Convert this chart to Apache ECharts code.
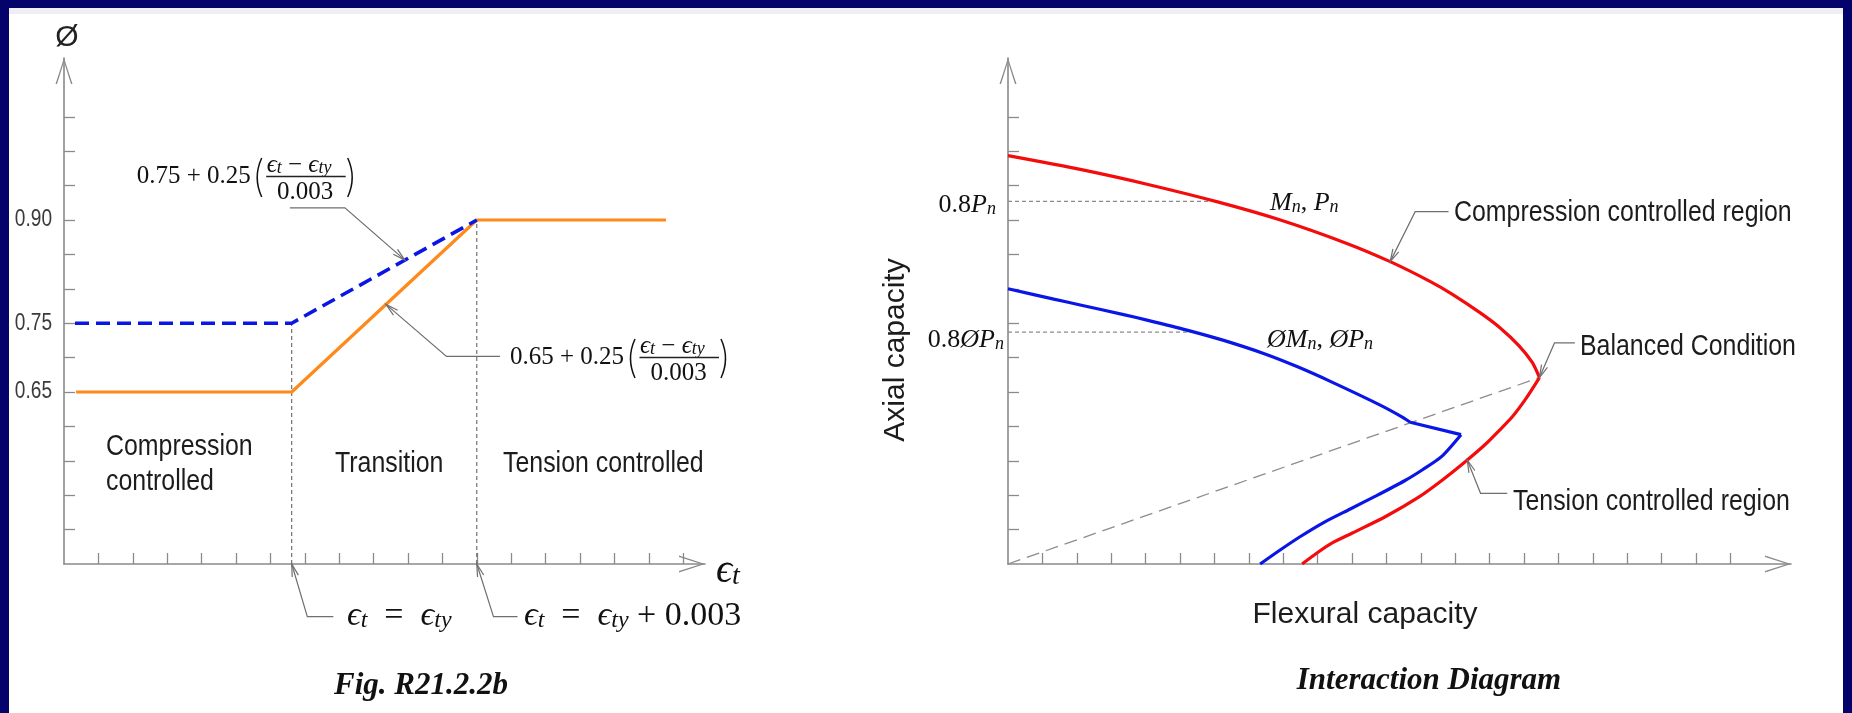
<!DOCTYPE html>
<html><head><meta charset="utf-8">
<script src="https://cdn.jsdelivr.net/npm/echarts@6/dist/echarts.min.js"></script>
<style>html,body{margin:0;padding:0;background:#fff}#c{width:1852px;height:713px}</style>
</head><body><div id="c"></div>
<script>
// ---------------- DATA ----------------
// Left chart: strength reduction factor (phi) vs net tensile strain (tick units)
const strainTicks = [1,2,3,4,5,6,7,8,9,10,11,12,13,14,15,16,17,18];
const phiTicks = [0.45,0.50,0.55,0.60,0.65,0.70,0.75,0.80,0.85,0.90,0.95,1.00,1.05];
const phiTickLabels = [0.65,0.75,0.90];
const spiralStrain = [0.32, 6.62, 12.0];
const spiralPhi = [0.75, 0.75, 0.90];
const otherStrain = [0.35, 6.62, 12.0, 17.5];
const otherPhi = [0.65, 0.65, 0.90, 0.90];
const limitStrain = [6.62, 12.0];
const limitPhi = [0.75, 0.90];

// Right chart: interaction diagram (tick units)
const momentTicks = [1,2,3,4,5,6,7,8,9,10,11,12,13,14,15,16,17,18,19,20,21];
const axialTicks = [1,2,3,4,5,6,7,8,9,10,11,12,13];
const nominalUpper = [[0,11.87],[2.10,11.47],[4.04,11.04],[6.12,10.52],[7.92,10.00],[9.85,9.32],[11.11,8.79],[12.28,8.21],[12.92,7.84],[13.73,7.30],[14.30,6.87],[14.85,6.35],[15.24,5.86],[15.45,5.42]];
const nominalLower = [[15.45,5.42],[15.05,4.80],[14.66,4.28],[14.25,3.85],[13.88,3.48],[13.30,2.98],[12.60,2.42],[11.95,1.95],[10.98,1.38],[10.01,0.90],[9.40,0.60],[8.98,0.32],[8.55,0]];
const designUpper = [[0,8.0],[1.33,7.70],[2.10,7.53],[3.36,7.25],[4.04,7.09],[5.20,6.80],[6.27,6.50],[7.43,6.12],[8.40,5.74],[9.37,5.31],[10.82,4.62],[11.50,4.25],[11.69,4.12]];
const designKink = [[11.69,4.12],[13.17,3.76]];
const designLower = [[13.17,3.76],[12.60,3.12],[12.05,2.74],[11.53,2.42],[10.70,1.98],[9.95,1.60],[9.20,1.22],[8.50,0.80],[7.90,0.40],[7.33,0]];
const balancedLine = [[0,0],[15.45,5.42]];
const nominalCapLine = [[0,10.54],[6.0,10.54]];
const designCapLine = [[0,6.74],[5.3,6.74]];

// ---------------- LAYOUT / STYLE ----------------
const SERIF = "'Liberation Serif','DejaVu Serif',serif";
const SANS = "'Liberation Sans',Arial,sans-serif";
const NARROW_SX = 0.83;
const AX = '#8a8a8a';
const UNIT = 34.4;           // px per tick
const G_TOP = 58, G_H = 506;
const L_LEFT = 64, L_W = 641, R_LEFT = 1008, R_W = 783;
const LY_MIN = 0.40, LY_MAX = LY_MIN + G_H / UNIT * 0.05;
const LX_MAX = L_W / UNIT, RX_MAX = R_W / UNIT, RY_MAX = G_H / UNIT;
const ARROW = 'path://M0,26 L8.5,0 L17,26 L15.5,26 L8.5,3.8 L1.5,26 Z';

function axis(gi, min, max, ticks) {
  return {
    type: 'value', gridIndex: gi, min: min, max: max,
    axisLine: { show: true, onZero: false, lineStyle: { color: AX, width: 1.6 },
      symbol: ['none', ARROW], symbolSize: [17, 26], symbolOffset: [0, -13] },
    axisTick: { show: true, inside: true, length: 11, customValues: ticks, lineStyle: { color: AX, width: 1.3 } },
    axisLabel: { show: false },
    splitLine: { show: false }
  };
}
const zip = (a, b) => a.map((v, i) => [v, b[i]]);
function line(gi, data, style, smooth) {
  return { type: 'line', xAxisIndex: gi, yAxisIndex: gi, data: data, symbol: 'none', showSymbol: false,
    smooth: smooth || false, lineStyle: style, silent: true, z: 3 };
}

const chart = echarts.init(document.getElementById('c'), null, { renderer: 'canvas' });
const series = [
  line(0, [[limitStrain[0], LY_MIN], [limitStrain[0], limitPhi[0]]], { color: '#555', width: 1, type: [4, 3] }),
  line(0, [[limitStrain[1], LY_MIN], [limitStrain[1], limitPhi[1]]], { color: '#555', width: 1, type: [4, 3] }),
  line(0, zip(otherStrain, otherPhi), { color: '#ff8a1c', width: 3.2 }),
  line(0, zip(spiralStrain, spiralPhi), { color: '#0a16e6', width: 3.6, type: [14, 7] }),
  line(1, balancedLine, { color: '#8c8c8c', width: 1.3, type: [13, 7] }),
  line(1, nominalCapLine, { color: '#8c8c8c', width: 1.2, type: [4, 3] }),
  line(1, designCapLine, { color: '#8c8c8c', width: 1.2, type: [4, 3] }),
  line(1, nominalUpper, { color: '#f40c0c', width: 3.2 }, 0.25),
  line(1, nominalLower, { color: '#f40c0c', width: 3.2 }, 0.25),
  line(1, designUpper, { color: '#0a16e6', width: 3.2 }, 0.25),
  line(1, designKink, { color: '#0a16e6', width: 3.2 }),
  line(1, designLower, { color: '#0a16e6', width: 3.2 }, 0.25)
];

chart.setOption({
  animation: false,
  backgroundColor: '#ffffff',
  grid: [
    { left: L_LEFT, top: G_TOP, width: L_W, height: G_H },
    { left: R_LEFT, top: G_TOP, width: R_W, height: G_H }
  ],
  xAxis: [axis(0, 0, LX_MAX, strainTicks), axis(1, 0, RX_MAX, momentTicks)],
  yAxis: [axis(0, LY_MIN, LY_MAX, phiTicks), axis(1, 0, RY_MAX, axialTicks)],
  series: series
});

// ---------------- ANNOTATIONS ----------------
function interp(pts, x) {
  for (let i = 0; i < pts.length - 1; i++) {
    const a = pts[i], b = pts[i + 1];
    if ((x - a[0]) * (x - b[0]) <= 0 && a[0] !== b[0]) return a[1] + (b[1] - a[1]) * (x - a[0]) / (b[0] - a[0]);
  }
  return pts[pts.length - 1][1];
}
const P0 = p => chart.convertToPixel({ gridIndex: 0 }, p);
const P1 = p => chart.convertToPixel({ gridIndex: 1 }, p);

const R = size => ({
  r: { fontFamily: SERIF, fontSize: size, lineHeight: size, fill: '#111' },
  i: { fontFamily: SERIF, fontSize: size, fontStyle: 'italic', lineHeight: size, fill: '#111' },
  s: { fontFamily: SERIF, fontSize: Math.round(size * 0.7), fontStyle: 'italic', lineHeight: Math.round(size * 0.42), verticalAlign: 'bottom', fill: '#111' }
});
function T(x, y, text, size, align) {
  return { type: 'text', x: x, y: y, silent: true, z: 10,
    style: { text: text, rich: R(size), align: align || 'left', verticalAlign: 'middle', fontFamily: SERIF, fontSize: size, fill: '#111' } };
}
function plain(x, y, text, font, size, style, el) {
  return Object.assign({ type: 'text', x: x, y: y, silent: true, z: 10,
    style: Object.assign({ text: text, fontFamily: font, fontSize: size, fill: '#1c1c1c', align: 'left', verticalAlign: 'middle' }, style || {}) },
    el || {});
}
function narrow(x, y, text, size, style) {
  return plain(x, y, text, SANS, size, style, { scaleX: NARROW_SX });
}
function leader(tip, dx1, dy1, dx2) {
  const elbow = [tip[0] + dx1, tip[1] + dy1];
  const end = [elbow[0] + dx2, elbow[1]];
  const ang = Math.atan2(tip[1] - elbow[1], tip[0] - elbow[0]);
  const L = 13, a = 0.25;
  const w1 = [tip[0] - L * Math.cos(ang - a), tip[1] - L * Math.sin(ang - a)];
  const w2 = [tip[0] - L * Math.cos(ang + a), tip[1] - L * Math.sin(ang + a)];
  const st = { stroke: '#6f6f6f', lineWidth: 1.2, fill: null };
  return [
    { type: 'polyline', silent: true, z: 9, shape: { points: [end, elbow, tip] }, style: st },
    { type: 'polyline', silent: true, z: 9, shape: { points: [w1, tip, w2] }, style: st }
  ];
}
function paren(x, yTop, yBot, left) {
  const h = yBot - yTop;
  const xe = left ? x + 7 : x + 1, xc = left ? x - 2 : x + 10;
  return { type: 'bezierCurve', silent: true, z: 10,
    shape: { x1: xe, y1: yTop, x2: xe, y2: yBot, cpx1: xc, cpy1: yTop + h / 2 },
    style: { stroke: '#111', lineWidth: 1.5, fill: null } };
}
function formula(x0, y, lead) {
  return [
    T(x0, y, '{r|' + lead + '}', 25),
    paren(x0 + 118, y - 18, y + 21, true),
    T(x0 + 130, y - 11, '{i|ϵ}{s|t}{r| − }{i|ϵ}{s|ty}', 25),
    { type: 'line', silent: true, z: 10, shape: { x1: x0 + 129.5, y1: y + 0.5, x2: x0 + 209, y2: y + 0.5 }, style: { stroke: '#222', lineWidth: 1.3 } },
    T(x0 + 168.5, y + 16, '{r|0.003}', 25, 'center'),
    paren(x0 + 210, y - 18, y + 21, false)
  ];
}

const g = [];
// navy frame
g.push({ type: 'rect', silent: true, z: 0, shape: { x: 0, y: 8, width: 1852, height: 6 }, style: { fill: '#eeeef4' } });
g.push({ type: 'rect', silent: true, z: 0, shape: { x: 0, y: 0, width: 1852, height: 8 }, style: { fill: '#03036b' } });
g.push({ type: 'rect', silent: true, z: 0, shape: { x: 0, y: 0, width: 9, height: 713 }, style: { fill: '#03036b' } });
g.push({ type: 'rect', silent: true, z: 0, shape: { x: 1843, y: 0, width: 9, height: 713 }, style: { fill: '#03036b' } });

// left chart y labels (from tick label array)
phiTickLabels.forEach(v => {
  const p = P0([0, v]);
  g.push(plain(p[0] - 12, p[1], v.toFixed(2), SANS, 23, { align: 'right', fill: '#3a3a3a' }, { scaleX: NARROW_SX }));
});
g.push(plain(67, 38, 'Ø', SANS, 30, { align: 'center', fill: '#222' }));
g.push(T(716, 571, '{i|ϵ}{s|t}', 40));
g.push(narrow(106, 429, 'Compression\ncontrolled', 30, { verticalAlign: 'top', lineHeight: 35 }));
g.push(narrow(335, 464, 'Transition', 30));
g.push(narrow(503, 464, 'Tension controlled', 30));
formula(136.7, 176, '0.75 + 0.25').forEach(e => g.push(e));
formula(510, 357, '0.65 + 0.25').forEach(e => g.push(e));
// left leaders
const tipSpiral = P0([9.91, interp(zip(spiralStrain, spiralPhi), 9.91)]);
leader(tipSpiral, -60, -52.3, -55).forEach(e => g.push(e));
const tipOther = P0([9.36, interp(zip(otherStrain, otherPhi), 9.36)]);
leader(tipOther, 60.5, 52, 53.5).forEach(e => g.push(e));
const tipLim0 = P0([limitStrain[0], LY_MIN]);
leader(tipLim0, 15.6, 52.7, 26).forEach(e => g.push(e));
const tipLim1 = P0([limitStrain[1], LY_MIN]);
leader(tipLim1, 16.7, 52.7, 24).forEach(e => g.push(e));
g.push(T(347, 616, '{i|ϵ}{s|t}{r|  =  }{i|ϵ}{s|ty}', 34));
g.push(T(524, 616, '{i|ϵ}{s|t}{r|  =  }{i|ϵ}{s|ty}{r| + 0.003}', 34));
g.push(plain(421, 686, 'Fig. R21.2.2b', SERIF, 31, { align: 'center', fontStyle: 'italic', fontWeight: 'bold', fill: '#111' }));

// right chart texts
g.push(T(996, 205, '{r|0.8}{i|P}{s|n}', 26, 'right'));
g.push(T(1004, 340, '{r|0.8}{i|Ø}{i|P}{s|n}', 26, 'right'));
g.push(T(1270, 203, '{i|M}{s|n}{r|, }{i|P}{s|n}', 26));
g.push(T(1267, 340, '{i|Ø}{i|M}{s|n}{r|, }{i|Ø}{i|P}{s|n}', 26));
g.push(narrow(1454, 213, 'Compression controlled region', 30));
g.push(narrow(1580, 347, 'Balanced Condition', 30));
g.push(narrow(1513, 502, 'Tension controlled region', 30));
g.push(plain(896, 350, 'Axial capacity', SANS, 30, { align: 'center' }, { rotation: Math.PI / 2 }));
g.push(plain(1365, 615, 'Flexural capacity', SANS, 30, { align: 'center' }));
g.push(plain(1429, 681, 'Interaction Diagram', SERIF, 31, { align: 'center', fontStyle: 'italic', fontWeight: 'bold', fill: '#111' }));
// right leaders
const tipComp = P1([11.11, interp(nominalUpper, 11.11)]);
leader(tipComp, 25, -50, 33.4).forEach(e => g.push(e));
const tipBal = P1(balancedLine[1]);
leader(tipBal, 15, -34.6, 20.4).forEach(e => g.push(e));
const tipTen = P1([13.35, interp(nominalLower, 13.35)]);
leader(tipTen, 13.3, 33.3, 26.7).forEach(e => g.push(e));

chart.setOption({ graphic: g });
</script></body></html>
